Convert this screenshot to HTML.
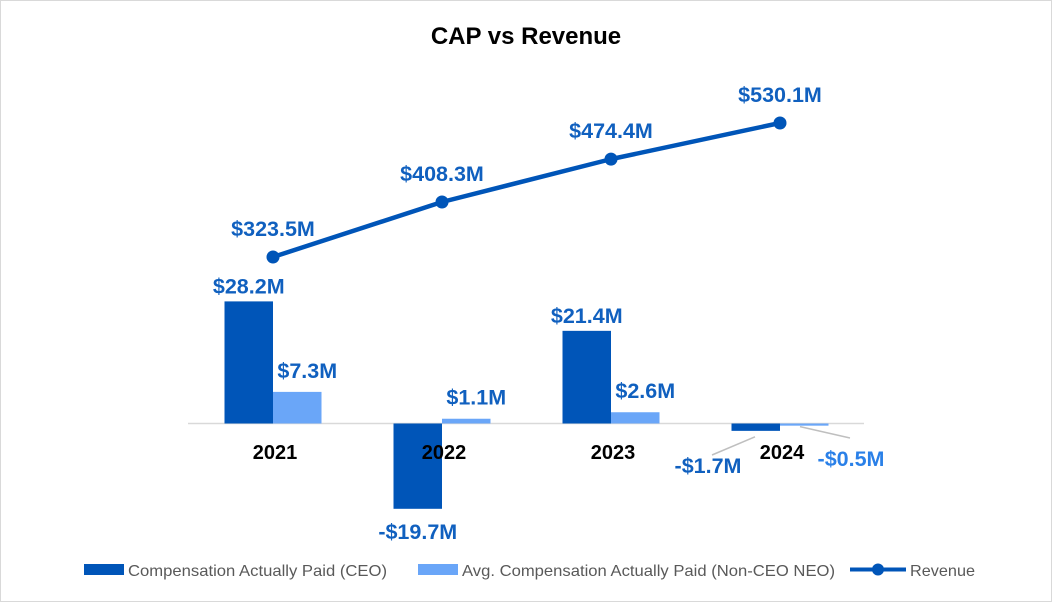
<!DOCTYPE html>
<html><head><meta charset="utf-8"><style>
body{margin:0;background:#fff}
svg{display:block;font-family:"Liberation Sans",Arial,sans-serif}
</style></head><body>
<svg id="chart" width="1052" height="602" viewBox="0 0 1052 602">
<rect x="0.5" y="0.5" width="1051" height="601" fill="#fff" stroke="#d9d9d9"/>
<text x="526" y="44" text-anchor="middle" font-size="24" font-weight="bold" fill="#000">CAP vs Revenue</text>
<line x1="188" y1="423.5" x2="864" y2="423.5" stroke="#d9d9d9" stroke-width="1.5"/>
<g id="bars"></g>
<g id="line"></g>
<g id="labels"></g>
<g>
<rect x="84" y="564" width="40" height="11" fill="#0055B8"/>
<text x="128" y="576" font-size="16" fill="#595959" textLength="259" lengthAdjust="spacingAndGlyphs">Compensation Actually Paid (CEO)</text>
<rect x="418" y="564" width="40" height="11" fill="#6AA6F8"/>
<text x="462" y="576" font-size="16" fill="#595959" textLength="373" lengthAdjust="spacingAndGlyphs">Avg. Compensation Actually Paid (Non-CEO NEO)</text>
<line x1="850" y1="569.5" x2="906" y2="569.5" stroke="#0055B8" stroke-width="4"/>
<circle cx="878" cy="569.5" r="6" fill="#0055B8"/>
<text x="910" y="576" font-size="16" fill="#595959" textLength="65" lengthAdjust="spacingAndGlyphs">Revenue</text>
</g>
</svg>
<script>
const categories = ["2021","2022","2023","2024"];
const ceoValues = [28.2, -19.7, 21.4, -1.7];
const neoValues = [7.3, 1.1, 2.6, -0.5];
const revenueValues = [323.5, 408.3, 474.4, 530.1];

const NS = "http://www.w3.org/2000/svg";
function xCenter(i){ return 273 + i*169; }
function yBar(v){ return 423.5 - v*4.33; }
function yRev(v){ return 257 - (v-323.5)*0.6486; }
function mk(tag, attrs, parent){
  const el = document.createElementNS(NS, tag);
  for (const k in attrs) el.setAttribute(k, attrs[k]);
  parent.appendChild(el); return el;
}
function fmt(v){ return (v<0?"-$":"$") + Math.abs(v).toFixed(1) + "M"; }
const bars = document.getElementById("bars");
const lineG = document.getElementById("line");
const labels = document.getElementById("labels");
const BW = 48.5;
const FS = "21.5";
categories.forEach((c,i)=>{
  const xc = xCenter(i);
  let y0 = yBar(0), y1 = yBar(ceoValues[i]);
  let r = mk("rect",{x:xc-BW,y:Math.min(y0,y1),width:BW,height:Math.abs(y1-y0),fill:"#0055B8"},bars);
  
  
  y1 = yBar(neoValues[i]);
  r = mk("rect",{x:xc,y:Math.min(y0,y1),width:BW,height:Math.abs(y1-y0),fill:"#6AA6F8"},bars);
  
  
  let t = mk("text",{x:xc+2,y:459,"text-anchor":"middle","font-size":"20","font-weight":"bold",fill:"#000"},labels);
  t.textContent = c;
  
  
  const cv = ceoValues[i];
  let lx = xc-BW/2, ly;
  if (cv >= 0) ly = yBar(cv) - 8;
  else if (Math.abs(cv) > 5) ly = yBar(cv) + 30;
  else { lx = xc-72; ly = 473;
    const l = mk("line",{x1:xc-68,y1:455,x2:xc-25,y2:yBar(cv)+6,stroke:"#bfbfbf","stroke-width":"1.5"},labels);
    
     }
  t = mk("text",{x:lx,y:ly,"text-anchor":"middle","font-size":FS,"font-weight":"bold",fill:"#1060BF"},labels);
  t.textContent = fmt(cv);
  
  
  const nv = neoValues[i];
  lx = xc+BW/2+10;
  if (nv >= 0) ly = yBar(nv) - 14;
  else { lx = xc+71; ly = 466;
    const l = mk("line",{x1:xc+20,y1:yBar(nv)+1,x2:xc+70,y2:438,stroke:"#bfbfbf","stroke-width":"1.5"},labels);
    
     }
  t = mk("text",{x:lx,y:ly,"text-anchor":"middle","font-size":FS,"font-weight":"bold",fill:nv<0?"#2A80E8":"#1060BF"},labels);
  t.textContent = fmt(nv);
  
  
});
const pts = revenueValues.map((v,i)=>xCenter(i)+","+yRev(v)).join(" ");
const pl = mk("polyline",{points:pts,fill:"none",stroke:"#0055B8","stroke-width":"4.5","stroke-linejoin":"round"},lineG);


revenueValues.forEach((v,i)=>{
  const c = mk("circle",{cx:xCenter(i),cy:yRev(v),r:6.5,fill:"#0055B8"},lineG);
  
  
  const t = mk("text",{x:xCenter(i),y:yRev(v)-21,"text-anchor":"middle","font-size":FS,"font-weight":"bold",fill:"#1060BF"},labels);
  t.textContent = fmt(v);
  
  
});
</script>
</body></html>
